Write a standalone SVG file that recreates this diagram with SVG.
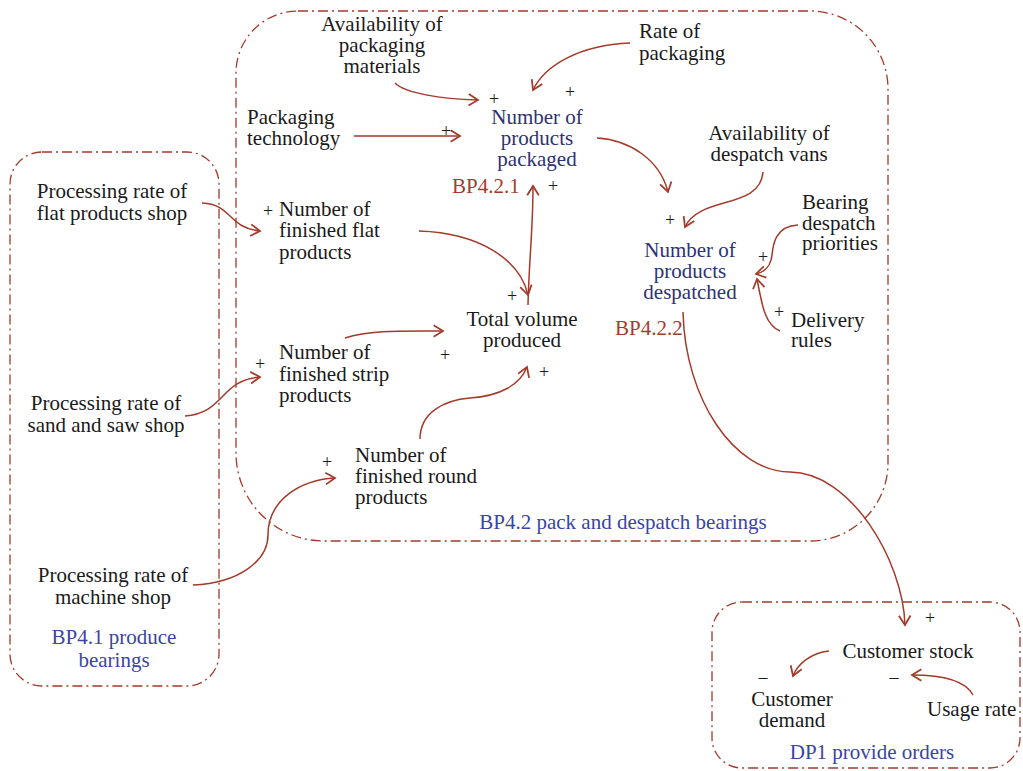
<svg xmlns="http://www.w3.org/2000/svg" width="1023" height="771" viewBox="0 0 1023 771" font-family="'Liberation Serif', serif">
<style>
text{font-family:"Liberation Serif","Times New Roman",serif;font-size:21px;fill:#1a1a1a}
.c{text-anchor:middle}
.n{fill:#2e3272}
.b{fill:#3a44a2}
.r{fill:#a53a2a}
text.s{font-size:18px}
.box{fill:none;stroke:#a33a2a;stroke-width:1.3;stroke-dasharray:10 4 2 4}
.e{fill:none;stroke:#a33a2a;stroke-width:1.5;marker-end:url(#ah)}
</style>
<defs>
<marker id="ah" markerUnits="userSpaceOnUse" markerWidth="14" markerHeight="14" viewBox="-10 -6 12 12" refX="0" refY="0" orient="auto">
<path d="M-8,-5 L0,0 L-8,5" fill="none" stroke="#a33a2a" stroke-width="1.5"/>
</marker>
</defs>
<g id="boxes">
<path id="box-bp42" class="box" d="M298,11 H810 A78,78 0 0 1 888,89 V463 A78,78 0 0 1 810,541 H324 A88,88 0 0 1 236,453 V73 A62,62 0 0 1 298,11 Z"/>
<rect id="box-bp41" class="box" x="10" y="152" width="209" height="534" rx="32"/>
<rect id="box-dp1" class="box" x="712" y="602" width="308" height="166" rx="30"/>
</g>
<g id="connectors">
<path class="e" d="M395,83 C405,93 440,99 478,100"/>
<path class="e" d="M630,43 C580,45 545,65 533,90"/>
<path class="e" d="M354,136 L460,136"/>
<path class="e" d="M597,138 C630,140 660,160 668,192"/>
<path class="e" d="M763,172 C760,210 700,195 685,227"/>
<path class="e" d="M798,225 C775,226 773,245 772,255 C771,265 765,272 756,274"/>
<path class="e" d="M780,331 C765,325 762,305 757,279"/>
<path class="e" d="M683,312 C685,400 735,472 790,472 C850,472 903,560 905,625"/>
<path class="e" d="M202,203 C232,204 228,228 260,231"/>
<path class="e" d="M419,231 C480,233 520,260 528,295"/>
<path class="e" d="M528,305 C529,260 533,230 533,186"/>
<path class="e" d="M345,338 C370,330 400,331 443,331"/>
<path class="e" d="M185,416 C225,413 220,380 260,377"/>
<path class="e" d="M420,439 C420,412 445,400 470,398 C500,396 520,385 527,367"/>
<path class="e" d="M193,585 C240,583 268,560 268,535 C268,500 300,480 335,478"/>
<path class="e" d="M829,651 C810,653 797,665 793,676"/>
<path class="e" d="M973,695 C965,680 940,675 912,675"/>
</g>
<g id="node-avail-pack"><text class="c" x="382" y="31">Availability of</text><text class="c" x="382" y="52">packaging</text><text class="c" x="382" y="73">materials</text></g>
<g id="node-rate-pack"><text x="639" y="38">Rate of</text><text x="639" y="60">packaging</text></g>
<g id="node-pack-tech"><text x="247" y="124">Packaging</text><text x="247" y="145">technology</text></g>
<g id="node-packaged"><text class="c n" x="537" y="124">Number of</text><text class="c n" x="537" y="145">products</text><text class="c n" x="537" y="166">packaged</text><text class="r" x="452" y="193">BP4.2.1</text></g>
<g id="node-avail-vans"><text class="c" x="769" y="140">Availability of</text><text class="c" x="769" y="161">despatch vans</text></g>
<g id="node-despatched"><text class="c n" x="690" y="257">Number of</text><text class="c n" x="690" y="278">products</text><text class="c n" x="690" y="299">despatched</text><text class="r" x="615" y="335">BP4.2.2</text></g>
<g id="node-priorities"><text x="802" y="209">Bearing</text><text x="802" y="230">despatch</text><text x="802" y="250">priorities</text></g>
<g id="node-delivery"><text x="791" y="327">Delivery</text><text x="791" y="347">rules</text></g>
<g id="node-flat-shop"><text class="c" x="112" y="198">Processing rate of</text><text class="c" x="112" y="220">flat products shop</text></g>
<g id="node-flat"><text x="279" y="216">Number of</text><text x="279" y="237">finished flat</text><text x="279" y="259">products</text></g>
<g id="node-total"><text class="c" x="522" y="326">Total volume</text><text class="c" x="522" y="347">produced</text></g>
<g id="node-strip"><text x="279" y="359">Number of</text><text x="279" y="381">finished strip</text><text x="279" y="402">products</text></g>
<g id="node-saw-shop"><text class="c" x="106" y="410">Processing rate of</text><text class="c" x="106" y="432">sand and saw shop</text></g>
<g id="node-round"><text x="355" y="462">Number of</text><text x="355" y="483">finished round</text><text x="355" y="504">products</text></g>
<g id="node-machine-shop"><text class="c" x="113" y="582">Processing rate of</text><text class="c" x="113" y="604">machine shop</text></g>
<g id="node-stock"><text class="c" x="908" y="658">Customer stock</text></g>
<g id="node-demand"><text class="c" x="792" y="706">Customer</text><text class="c" x="792" y="727">demand</text></g>
<g id="node-usage"><text x="927" y="716">Usage rate</text></g>
<g id="labels">
<text class="c b" x="623" y="529">BP4.2 pack and despatch bearings</text>
<text class="c b" x="114" y="644">BP4.1 produce</text><text class="c b" x="114" y="667">bearings</text>
<text class="c b" x="872" y="759">DP1 provide orders</text>
</g>
<g id="polarities">
<text class="c s" x="494" y="105">+</text>
<text class="c s" x="570" y="98">+</text>
<text class="c s" x="446" y="137">+</text>
<text class="c s" x="553" y="192">+</text>
<text class="c s" x="670" y="226">+</text>
<text class="c s" x="763" y="263">+</text>
<text class="c s" x="779" y="318">+</text>
<text class="c s" x="268" y="217">+</text>
<text class="c s" x="512" y="302">+</text>
<text class="c s" x="445" y="361">+</text>
<text class="c s" x="544" y="378">+</text>
<text class="c s" x="260" y="370">+</text>
<text class="c s" x="327" y="468">+</text>
<text class="c s" x="930" y="624">+</text>
<text class="c s" x="763" y="683">–</text>
<text class="c s" x="894" y="683">–</text>
</g>
</svg>
